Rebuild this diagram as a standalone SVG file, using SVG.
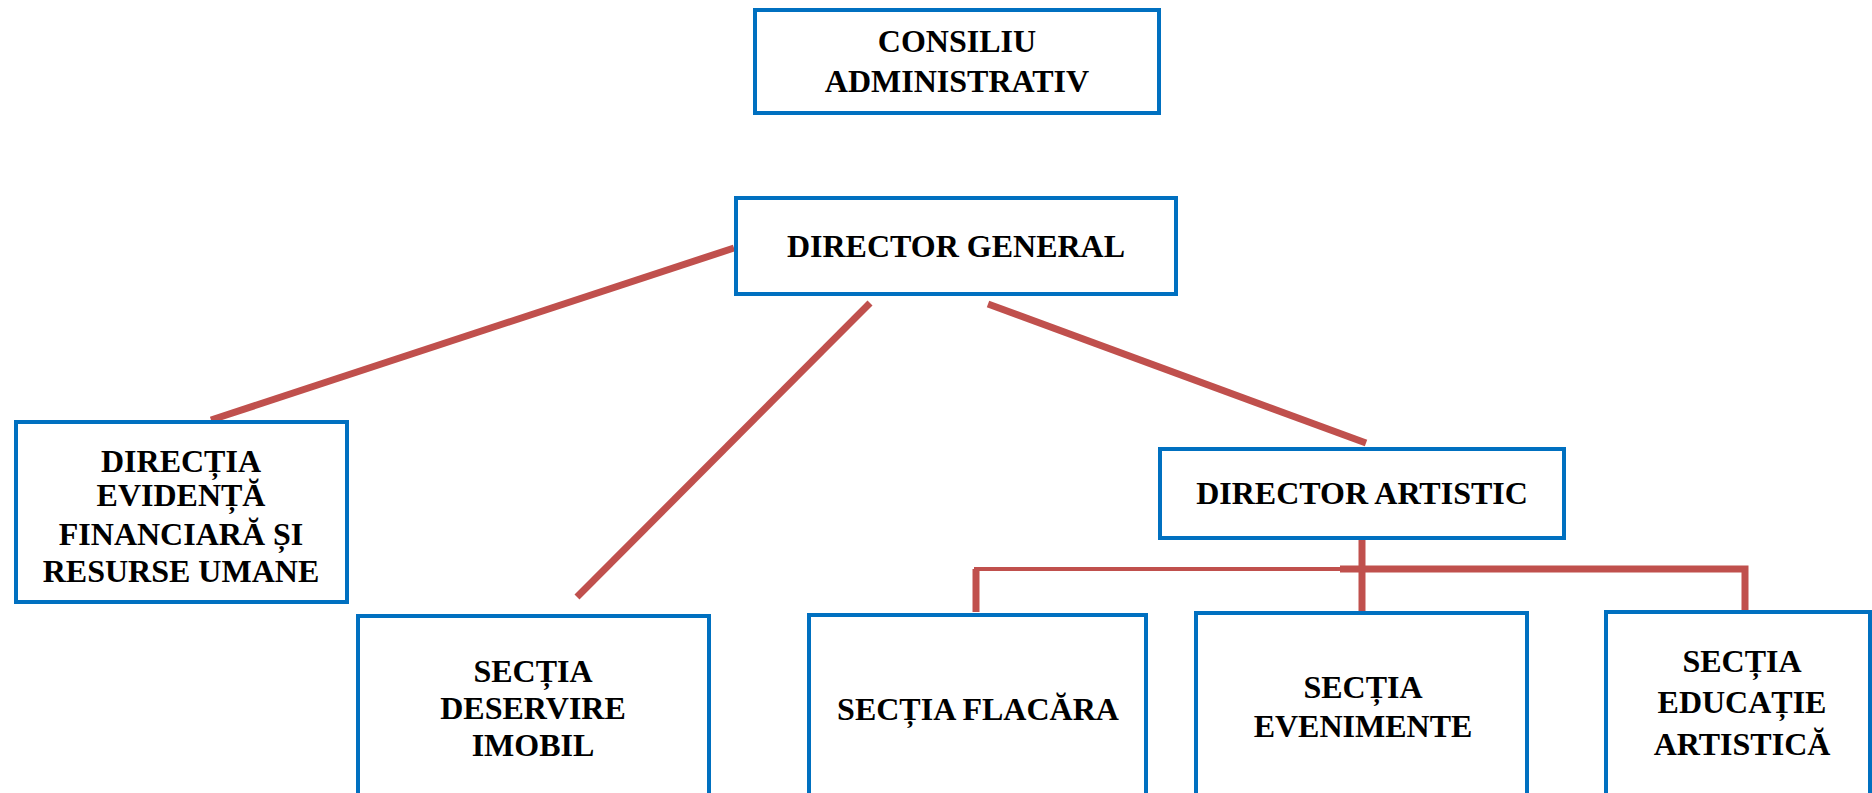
<svg xmlns="http://www.w3.org/2000/svg" width="1872" height="793" viewBox="0 0 1872 793">
<style>
.box{fill:#fff;stroke:#0070C0;stroke-width:4}
.t{font-family:"Liberation Serif","Times New Roman",serif;font-weight:bold;font-size:32px;fill:#000;text-anchor:middle}
.c{stroke:#C0504D;stroke-width:7;fill:none;stroke-linecap:butt}
.ct{stroke:#C0504D;stroke-width:4;fill:none}
</style>
<rect width="1872" height="793" fill="#fff"/>
<g id="connectors">
<line class="c" x1="734" y1="248" x2="211" y2="420"/>
<line class="c" x1="870" y1="303" x2="577" y2="597"/>
<line class="c" x1="988" y1="304" x2="1366" y2="443"/>
<line class="c" x1="1362" y1="538" x2="1362" y2="613"/>
<polyline class="ct" points="976,611 976,569 1340,569"/>
<line class="c" x1="976" y1="569" x2="976" y2="612"/>
<polyline class="c" points="1340,569 1745,569 1745,614"/>
</g>
<g id="n_consiliu">
<rect class="box" x="755" y="10" width="404" height="103"/>
<text class="t" x="957" y="52">CONSILIU</text>
<text class="t" x="957" y="92">ADMINISTRATIV</text>
</g>
<g id="n_dg">
<rect class="box" x="736" y="198" width="440" height="96"/>
<text class="t" x="956" y="257">DIRECTOR GENERAL</text>
</g>
<g id="n_directia">
<rect class="box" x="16" y="422" width="331" height="180"/>
<text class="t" x="181" y="472">DIRECȚIA</text>
<text class="t" x="181" y="506">EVIDENȚĂ</text>
<text class="t" x="181" y="545">FINANCIARĂ ȘI</text>
<text class="t" x="181" y="582">RESURSE UMANE</text>
</g>
<g id="n_da">
<rect class="box" x="1160" y="449" width="404" height="89"/>
<text class="t" x="1362" y="504">DIRECTOR ARTISTIC</text>
</g>
<g id="n_deservire">
<rect class="box" x="358" y="616" width="351" height="200"/>
<text class="t" x="533" y="682">SECȚIA</text>
<text class="t" x="533" y="719">DESERVIRE</text>
<text class="t" x="533" y="756">IMOBIL</text>
</g>
<g id="n_flacara">
<rect class="box" x="809" y="615" width="337" height="200"/>
<text class="t" x="978" y="720">SECȚIA FLACĂRA</text>
</g>
<g id="n_evenimente">
<rect class="box" x="1196" y="613" width="331" height="200"/>
<text class="t" x="1363" y="698">SECȚIA</text>
<text class="t" x="1363" y="737">EVENIMENTE</text>
</g>
<g id="n_educatie">
<rect class="box" x="1606" y="612" width="264" height="200"/>
<text class="t" x="1742" y="672">SECȚIA</text>
<text class="t" x="1742" y="713">EDUCAȚIE</text>
<text class="t" x="1742" y="755">ARTISTICĂ</text>
</g>
</svg>
